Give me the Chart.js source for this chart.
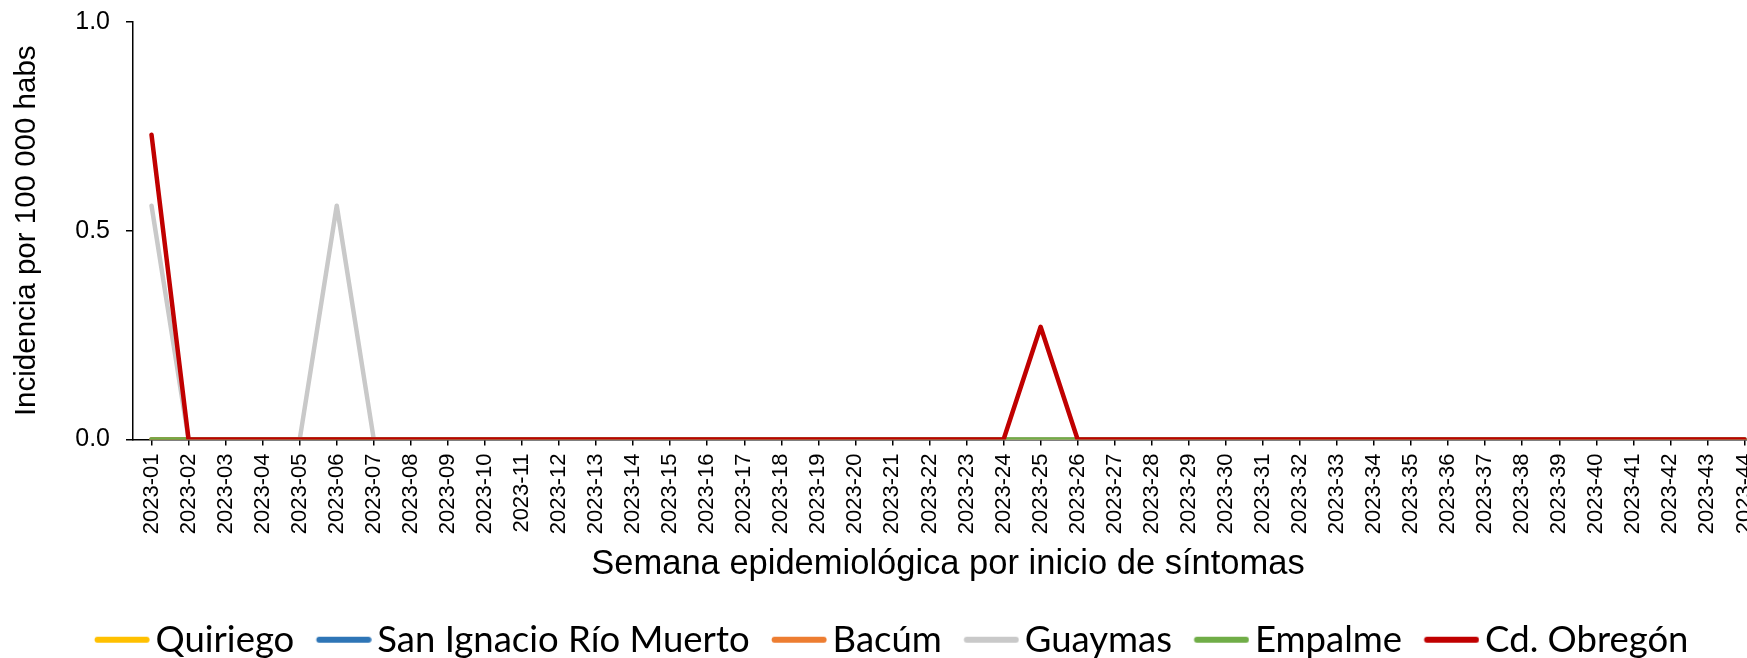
<!DOCTYPE html>
<html>
<head>
<meta charset="utf-8">
<script src="https://cdn.jsdelivr.net/npm/chart.js@4/dist/chart.umd.min.js"></script>
<style>
  html, body { margin: 0; padding: 0; background: #fff; overflow: hidden; }
  #wrap { position: relative; width: 1775px; height: 658px; }
</style>
</head>
<body>
<div id="wrap"><canvas id="c"></canvas></div>
<script>
const weeks = ['2023-01','2023-02','2023-03','2023-04','2023-05','2023-06','2023-07','2023-08','2023-09','2023-10',
  '2023-11','2023-12','2023-13','2023-14','2023-15','2023-16','2023-17','2023-18','2023-19','2023-20',
  '2023-21','2023-22','2023-23','2023-24','2023-25','2023-26','2023-27','2023-28','2023-29','2023-30',
  '2023-31','2023-32','2023-33','2023-34','2023-35','2023-36','2023-37','2023-38','2023-39','2023-40',
  '2023-41','2023-42','2023-43','2023-44'];

const quiriego   = [0,0,0,0,0,0,0,0,0,0, 0,0,0,0,0,0,0,0,0,0, 0,0,0,0,0,0,0,0,0,0, 0,0,0,0,0,0,0,0,0,0, 0,0,0,0];
const sanIgnacio = [0,0,0,0,0,0,0,0,0,0, 0,0,0,0,0,0,0,0,0,0, 0,0,0,0,0,0,0,0,0,0, 0,0,0,0,0,0,0,0,0,0, 0,0,0,0];
const bacum      = [0,0,0,0,0,0,0,0,0,0, 0,0,0,0,0,0,0,0,0,0, 0,0,0,0,0,0,0,0,0,0, 0,0,0,0,0,0,0,0,0,0, 0,0,0,0];
const guaymas    = [0.56,0,0,0,0,0.56,0,0,0,0, 0,0,0,0,0,0,0,0,0,0, 0,0,0,0,0,0,0,0,0,0, 0,0,0,0,0,0,0,0,0,0, 0,0,0,0];
const empalme    = [0,0,0,0,0,0,0,0,0,0, 0,0,0,0,0,0,0,0,0,0, 0,0,0,0,0,0,0,0,0,0, 0,0,0,0,0,0,0,0,0,0, 0,0,0,0];
const obregon    = [0.73,0,0,0,0,0,0,0,0,0, 0,0,0,0,0,0,0,0,0,0, 0,0,0,0,0.27,0,0,0,0,0, 0,0,0,0,0,0,0,0,0,0, 0,0,0,0];

const seriesNames  = ['Quiriego','San Ignacio Río Muerto','Bacúm','Guaymas','Empalme','Cd. Obregón'];
const seriesColors = ['#FFC000','#2E75B6','#ED7D31','#C9C9C9','#70AD47','#C00000'];
const seriesData   = [quiriego, sanIgnacio, bacum, guaymas, empalme, obregon];
const yTicks = [0, 0.5, 1.0];

// legend geometry
const LEG_FS = 36.5, LEG_PAD = 2, LINE_LEN = 55, GAP_TEXT = 6, GAP_ITEM = 22;
const BW = GAP_ITEM + LINE_LEN + GAP_TEXT - LEG_FS / 2 - LEG_PAD;
function legendImage(color) {
  const lineStart = BW + LEG_FS / 2 - GAP_TEXT - LINE_LEN; // rel. to item x
  const lineEnd = lineStart + LINE_LEN;
  const center = BW / 2;
  const half = Math.max(lineEnd - center, center - lineStart);
  const W = Math.ceil(half * 2), H = 8;
  const cv = document.createElement('canvas');
  cv.width = W; cv.height = H;
  const g = cv.getContext('2d');
  const left = center - W / 2;
  g.strokeStyle = color; g.lineWidth = 6; g.lineCap = 'round';
  g.beginPath();
  g.moveTo(lineStart - left + 3, H / 2);
  g.lineTo(lineEnd - left - 3, H / 2);
  g.stroke();
  return cv;
}
const legendImgs = seriesColors.map(legendImage);

const datasets = seriesNames.map((name, i) => ({
  label: name,
  data: seriesData[i],
  borderColor: seriesColors[i],
  backgroundColor: seriesColors[i],
  borderWidth: 4.5,
  borderCapStyle: 'round',
  borderJoinStyle: 'round',
  pointRadius: 0,
  pointHoverRadius: 0,
  tension: 0,
  fill: false,
  order: seriesNames.length - i
}));

new Chart(document.getElementById('c'), {
  type: 'line',
  data: { labels: weeks, datasets },
  options: {
    responsive: true,
    maintainAspectRatio: false,
    animation: false,
    layout: { padding: { top: 22, left: 0, right: 12, bottom: -10 } },
    plugins: {
      tooltip: { enabled: false },
      legend: {
        position: 'bottom',
        labels: {
          usePointStyle: true,
          pointStyleWidth: BW,
          padding: LEG_PAD,
          color: '#000',
          font: { family: 'Lato', size: LEG_FS },
          generateLabels: (chart) => seriesNames.map((name, i) => ({
            text: name,
            pointStyle: legendImgs[i],
            fillStyle: seriesColors[i],
            strokeStyle: seriesColors[i],
            lineWidth: 0,
            hidden: false,
            datasetIndex: i,
            fontColor: '#000'
          }))
        }
      }
    },
    scales: {
      x: {
        type: 'category',
        offset: true,
        afterFit: (s) => { s.height = 180; s.paddingLeft = 0; s.paddingRight = 0; },
        border: { display: true, color: '#000', width: 1.5 },
        grid: { display: true, drawOnChartArea: false, drawTicks: true, tickLength: 6, color: '#000', lineWidth: 1.5, offset: false },
        ticks: {
          autoSkip: false, maxRotation: 90, minRotation: 90, padding: 8,
          color: '#000', font: { family: 'Liberation Sans, Arial', size: 22 }
        },
        title: {
          display: true, text: 'Semana epidemiológica por inicio de síntomas',
          color: '#000', font: { family: 'Liberation Sans, Arial', size: 34.5 },
          padding: { top: 0, bottom: 34 }
        }
      },
      y: {
        min: 0, max: 1,
        afterFit: (s) => { s.width = 133; s.paddingTop = 0; s.paddingBottom = 0; },
        afterBuildTicks: (s) => { s.ticks = yTicks.map(v => ({ value: v })); },
        border: { display: true, color: '#000', width: 1.5 },
        grid: { display: true, drawOnChartArea: false, drawTicks: true, tickLength: 7, color: '#000', lineWidth: 1.5 },
        ticks: {
          padding: 16, color: '#000',
          font: { family: 'Liberation Sans, Arial', size: 25 },
          callback: (v) => Number(v).toFixed(1)
        },
        title: {
          display: true, text: 'Incidencia por 100 000 habs',
          color: '#000', font: { family: 'Liberation Sans, Arial', size: 29.5 },
          padding: { top: 9, bottom: 0 }
        }
      }
    }
  }
});
</script>
</body>
</html>
